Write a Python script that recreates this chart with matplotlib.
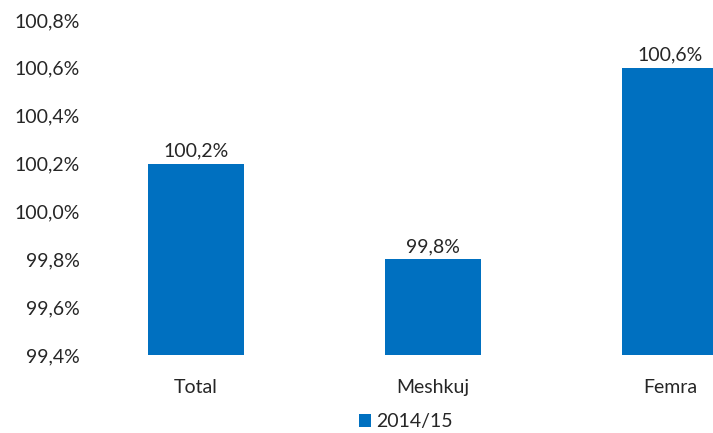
import matplotlib.pyplot as plt
from matplotlib.ticker import FuncFormatter
import numpy as np

categories = ['Total', 'Meshkuj', 'Femra']
values = [100.2, 99.8, 100.6]
labels = ['100,2%', '99,8%', '100,6%']
series_name = '2014/15'
yticks = [99.4, 99.6, 99.8, 100.0, 100.2, 100.4, 100.6, 100.8]

plt.rcParams['font.family'] = ['Lato', 'DejaVu Sans']
FS = 14
TXT = '#262626'

fig = plt.figure(figsize=(7.13, 4.33), dpi=100)
# axes: x from px 85 to 713, y from px 20 to 355
ax = fig.add_axes([85 / 713, (433 - 355) / 433, (713 - 85) / 713, (355 - 20) / 433])

x = np.arange(len(categories))
ax.bar(x, values, width=0.405, color='#0070C0', label=series_name, zorder=2)
ax.set_ylim(99.4, 100.8)
ax.set_xlim(-0.468, 2.181)
ax.set_yticks(yticks)
ax.yaxis.set_major_formatter(FuncFormatter(lambda v, p: f'{v:.1f}%'.replace('.', ',')))
ax.set_xticks(x)
ax.set_xticklabels(categories)

for s in ax.spines.values():
    s.set_visible(False)
ax.tick_params(axis='both', length=0, labelsize=FS, colors=TXT)
ax.tick_params(axis='x', pad=17)
ax.tick_params(axis='y', pad=4)

for xi, v, lab in zip(x, values, labels):
    ax.text(xi, v + 0.018, lab, ha='center', va='bottom', fontsize=FS, color=TXT)

leg = fig.legend(loc='center', bbox_to_anchor=(406 / 713, 1 - 422 / 433), frameon=False,
                 fontsize=FS, handlelength=0.6, handleheight=0.6, handletextpad=0.3)
for t in leg.get_texts():
    t.set_color(TXT)

fig.savefig('out.png', dpi=100)
